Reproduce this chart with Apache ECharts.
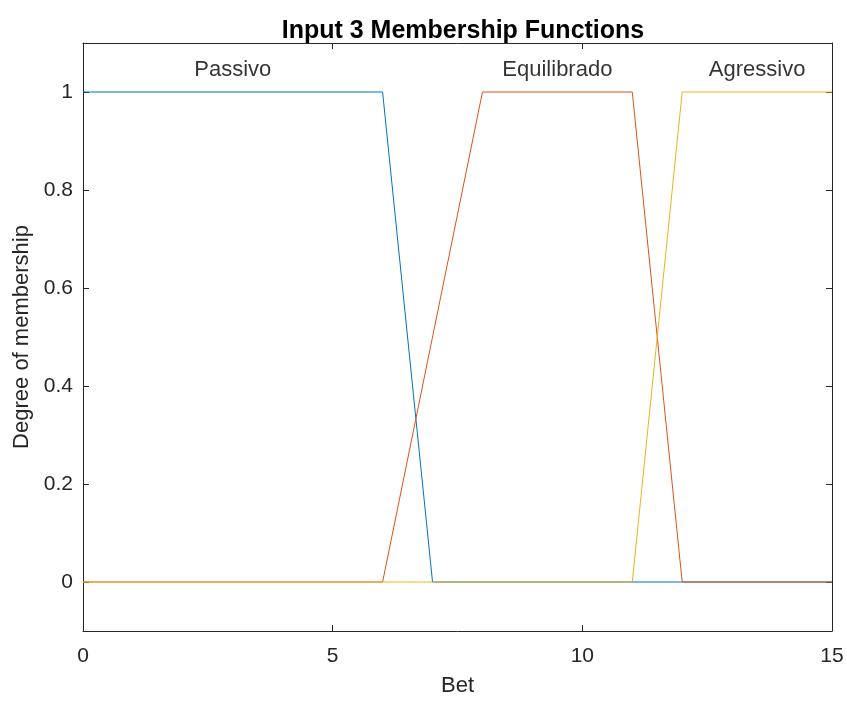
<!DOCTYPE html>
<html><head><meta charset="utf-8">
<script src="https://cdn.jsdelivr.net/npm/echarts@6/dist/echarts.min.js"></script>
<style>html,body{margin:0;padding:0;background:#fff}#c{width:847px;height:702px}</style>
</head><body><div id="c"></div>
<script>
const xTicks = [0, 5, 10, 15];
const yTicks = [0, 0.2, 0.4, 0.6, 0.8, 1];
const seriesNames = ['Passivo', 'Equilibrado', 'Agressivo'];
const passivoX = [0, 6, 7, 15];
const passivoY = [1, 1, 0, 0];
const equilibradoX = [0, 6, 8, 11, 12, 15];
const equilibradoY = [0, 0, 1, 1, 0, 0];
const agressivoX = [0, 11, 12, 15];
const agressivoY = [0, 0, 1, 1];
const labelX = [3, 9.5, 13.5];
const labelY = [1.045, 1.045, 1.045];

const colors = ['#0072BD', '#D95319', '#EDB120'];
const font = '"Liberation Sans", Arial, Helvetica, sans-serif';
const axisCol = '#262626';

function pts(xs, ys) { return xs.map((x, i) => [x, ys[i]]); }

const chart = echarts.init(document.getElementById('c'), null, {renderer: 'canvas'});
const xs = [passivoX, equilibradoX, agressivoX];
const ys = [passivoY, equilibradoY, agressivoY];

const lineSeries = seriesNames.map((n, i) => ({
  type: 'line', name: n, data: pts(xs[i], ys[i]), showSymbol: false, symbol: 'none',
  lineStyle: {color: colors[i], width: 1}, animation: false, z: 2 + i
}));

const option = {
  animation: false,
  title: {text: 'Input 3 Membership Functions', left: 458, top: 14, textAlign: 'center',
    textStyle: {fontFamily: font, fontWeight: 'bold', fontSize: 25, color: '#000'}},
  grid: {left: 83, right: 15, top: 43, bottom: 66, containLabel: false, show: false},
  xAxis: [{
    type: 'value', min: 0, max: 15, position: 'bottom',
    name: 'Bet', nameLocation: 'middle', nameGap: 44,
    nameTextStyle: {fontFamily: font, fontSize: 22, color: axisCol},
    axisLine: {show: true, onZero: false, lineStyle: {color: axisCol, width: 1}},
    axisTick: {show: true, inside: true, length: 6, customValues: xTicks, lineStyle: {color: axisCol}},
    axisLabel: {customValues: xTicks, fontFamily: font, fontSize: 21, color: axisCol, margin: 15},
    splitLine: {show: false}
  }, {
    type: 'value', min: 0, max: 15, position: 'top',
    axisLine: {show: true, onZero: false, lineStyle: {color: axisCol, width: 1}},
    axisTick: {show: true, inside: true, length: 6, customValues: xTicks, lineStyle: {color: axisCol}},
    axisLabel: {show: false}, splitLine: {show: false}
  }],
  yAxis: [{
    type: 'value', min: -0.1, max: 1.1, position: 'left',
    name: 'Degree of membership', nameLocation: 'middle', nameGap: 49, nameRotate: 90,
    nameTextStyle: {fontFamily: font, fontSize: 22, color: axisCol},
    axisLine: {show: true, onZero: false, lineStyle: {color: axisCol, width: 1}},
    axisTick: {show: true, inside: true, length: 6, customValues: yTicks, lineStyle: {color: axisCol}},
    axisLabel: {customValues: yTicks, fontFamily: font, fontSize: 21, color: axisCol, margin: 10,
      formatter: v => String(Math.round(v * 10) / 10)},
    splitLine: {show: false}
  }, {
    type: 'value', min: -0.1, max: 1.1, position: 'right',
    axisLine: {show: true, onZero: false, lineStyle: {color: axisCol, width: 1}},
    axisTick: {show: true, inside: true, length: 6, customValues: yTicks, lineStyle: {color: axisCol}},
    axisLabel: {show: false}, splitLine: {show: false}
  }],
  series: lineSeries.concat([{
    type: 'scatter', symbolSize: 0, silent: true,
    data: labelX.map((x, i) => ({value: [x, labelY[i]], name: seriesNames[i]})),
    label: {show: true, position: 'inside', formatter: p => p.name,
      fontFamily: font, fontSize: 22, color: '#000'}
  }])
};
chart.setOption(option);
</script></body></html>
